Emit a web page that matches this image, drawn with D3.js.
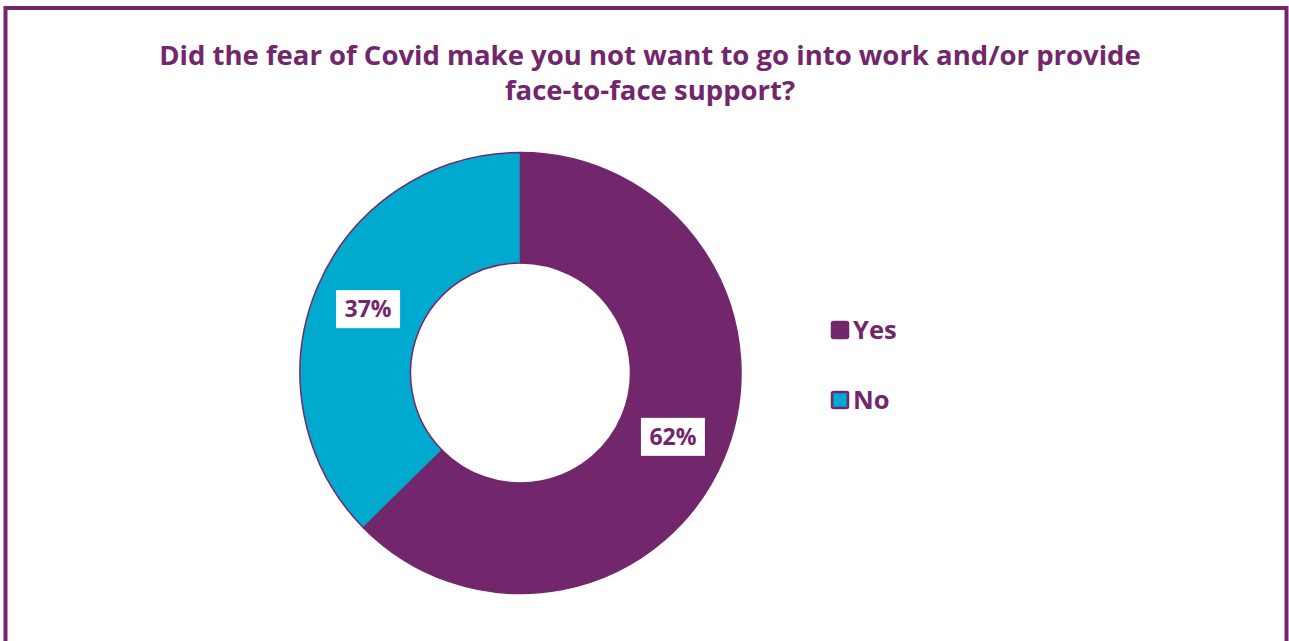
<!DOCTYPE html>
<html>
<head>
<meta charset="utf-8">
<script src="https://cdn.jsdelivr.net/npm/d3@7"></script>
<style>
  html, body { margin: 0; padding: 0; background: #ffffff; }
  svg { display: block; }
</style>
</head>
<body>
<svg id="chart" width="1289" height="641"></svg>
<script>
// Survey answers
const categories = ["Yes", "No"];
const values = [62, 37];
const labels = ["62%", "37%"];
const titleLines = [
  "Did the fear of Covid make you not want to go into work and/or provide",
  "face-to-face support?"
];

const purple = "#72266b";
const cyan = "#00a9ce";
const colors = d3.scaleOrdinal().domain(categories).range([purple, cyan]);
const font = "'Open Sans', Roboto, sans-serif";

const svg = d3.select("#chart");

// Frame
svg.append("rect")
  .attr("x", 5.5).attr("y", 8).attr("width", 1281).attr("height", 660)
  .attr("fill", "#fff").attr("stroke", purple).attr("stroke-width", 4);

// Title
const title = svg.append("text")
  .attr("text-anchor", "middle")
  .attr("font-family", font)
  .attr("font-weight", 700)
  .attr("font-size", 27.5)
  .attr("fill", purple);
titleLines.forEach((t, i) => {
  title.append("tspan").attr("x", 650).attr("y", 65 + i * 35).text(t);
});

// Donut
const cx = 520.5, cy = 373, outerR = 220.5, innerR = 110;
const pie = d3.pie().sort(null).value(d => d.value);
const arc = d3.arc().innerRadius(innerR).outerRadius(outerR);
const data = categories.map((c, i) => ({ cat: c, value: values[i], label: labels[i] }));
const arcs = pie(data);

const g = svg.append("g").attr("transform", `translate(${cx},${cy})`);
g.selectAll("path.slice")
  .data(arcs)
  .join("path")
  .attr("class", "slice")
  .attr("d", arc)
  .attr("fill", d => colors(d.data.cat))
  .attr("stroke", purple)
  .attr("stroke-width", 1.5)
  .attr("stroke-linejoin", "round");

// Value labels in white boxes
const lab = g.selectAll("g.lab")
  .data(arcs)
  .join("g")
  .attr("class", "lab")
  .attr("transform", d => `translate(${arc.centroid(d)})`);
lab.append("rect")
  .attr("x", -32).attr("y", -19).attr("width", 64).attr("height", 38)
  .attr("fill", "#fff");
lab.append("text")
  .attr("text-anchor", "middle")
  .attr("dy", "0.36em")
  .attr("font-family", font)
  .attr("font-weight", 700)
  .attr("font-size", 23)
  .attr("fill", purple)
  .text(d => d.data.label);

// Legend
const legend = svg.append("g").attr("transform", "translate(831,321)");
const items = legend.selectAll("g.item")
  .data(categories)
  .join("g")
  .attr("class", "item")
  .attr("transform", (d, i) => `translate(0,${i * 70})`);
items.append("rect")
  .attr("x", 1).attr("y", 1).attr("width", 16).attr("height", 16)
  .attr("rx", 1.5)
  .attr("fill", d => colors(d))
  .attr("stroke", purple).attr("stroke-width", 2.5);
items.append("text")
  .attr("x", 22).attr("y", 9).attr("dy", "0.36em")
  .attr("font-family", font)
  .attr("font-weight", 700)
  .attr("font-size", 25.5)
  .attr("fill", purple)
  .text(d => d);
</script>
</body>
</html>
